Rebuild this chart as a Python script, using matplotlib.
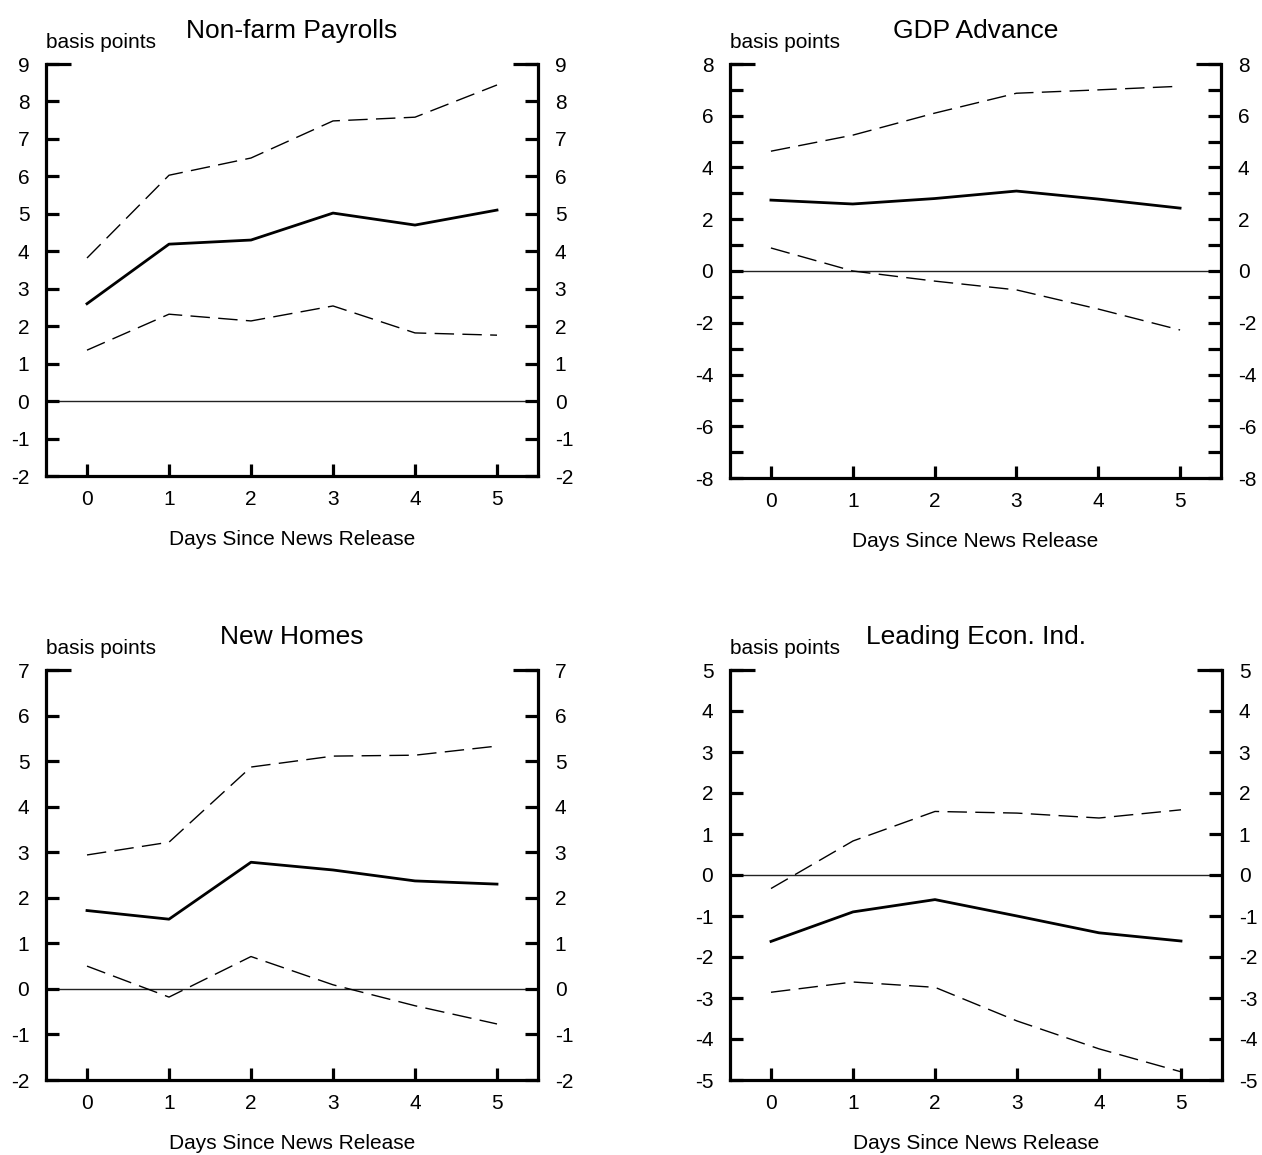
import matplotlib.pyplot as plt
import numpy as np

plt.rcParams['font.family'] = ['Liberation Sans', 'DejaVu Sans']

days = [0, 1, 2, 3, 4, 5]

titles = ["Non-farm Payrolls", "GDP Advance", "New Homes", "Leading Econ. Ind."]

payrolls_mid = [2.6, 4.19, 4.3, 5.02, 4.7, 5.1]
payrolls_hi = [3.82, 6.03, 6.49, 7.48, 7.58, 8.44]
payrolls_lo = [1.36, 2.32, 2.14, 2.54, 1.82, 1.76]

gdp_mid = [2.74, 2.59, 2.8, 3.09, 2.78, 2.43]
gdp_hi = [4.63, 5.25, 6.1, 6.87, 7.0, 7.14]
gdp_lo = [0.89, 0.0, -0.39, -0.73, -1.47, -2.28]

homes_mid = [1.72, 1.53, 2.78, 2.61, 2.37, 2.3]
homes_hi = [2.94, 3.22, 4.87, 5.11, 5.13, 5.33]
homes_lo = [0.5, -0.18, 0.71, 0.09, -0.37, -0.77]

lei_mid = [-1.62, -0.9, -0.6, -1.0, -1.41, -1.61]
lei_hi = [-0.33, 0.83, 1.55, 1.51, 1.39, 1.59]
lei_lo = [-2.86, -2.61, -2.74, -3.56, -4.24, -4.8]

ylims = [(-2, 9), (-8, 8), (-2, 7), (-5, 5)]
label_step = [1, 2, 1, 1]

series = [
    (payrolls_mid, payrolls_hi, payrolls_lo),
    (gdp_mid, gdp_hi, gdp_lo),
    (homes_mid, homes_hi, homes_lo),
    (lei_mid, lei_hi, lei_lo),
]

W, H = 1262, 1155
fig = plt.figure(figsize=(W / 100, H / 100), dpi=100)

# axes boxes in pixels: left, top, right, bottom
boxes = [(46, 64, 538, 476), (730, 64, 1221, 478),
         (46, 670, 538, 1080), (730, 670, 1222, 1080)]

fs = 15
for i, (mid, hi, lo) in enumerate(series):
    l, t, r, b = boxes[i]
    ax = fig.add_axes([l / W, 1 - b / H, (r - l) / W, (b - t) / H])
    ymin, ymax = ylims[i]

    ax.axhline(0, color='#222222', lw=1.0, zorder=1)
    ax.plot(days, hi, color='black', lw=1.0, dashes=(14, 6))
    ax.plot(days, lo, color='black', lw=1.0, dashes=(14, 6))
    ax.plot(days, mid, color='black', lw=2.0)

    ax.set_xlim(-0.5, 5.5)
    ax.set_ylim(ymin, ymax)
    ax.set_xticks(days)

    step = label_step[i]
    major = np.arange(ymin, ymax + 1, step)
    ax.set_yticks(major)
    ax.set_yticklabels([str(v) for v in major])
    if step > 1:
        ax.set_yticks(np.arange(ymin, ymax + 1, 1), minor=True)

    for s in ['left', 'right', 'bottom']:
        ax.spines[s].set_linewidth(2.3)
    ax.spines['top'].set_visible(False)

    ax.tick_params(axis='y', which='both', direction='in', length=9.5, width=2.3,
                   left=True, right=True, labelleft=True, labelright=True,
                   labelsize=fs, pad=12)
    ax.tick_params(axis='x', direction='in', length=9, width=2.3, top=False,
                   labelsize=fs, pad=10)

    # longer cap at the top of both vertical axes
    cap = 25 / (r - l)
    ax.plot([0, cap], [1, 1], transform=ax.transAxes, color='black',
            lw=2.3, clip_on=False, solid_capstyle='butt')
    ax.plot([1 - cap, 1], [1, 1], transform=ax.transAxes, color='black',
            lw=2.3, clip_on=False, solid_capstyle='butt')

    ax.set_xlabel("Days Since News Release", fontsize=fs, labelpad=15)
    ax.set_title(titles[i], fontsize=19, pad=19)
    ax.text(0, 1.03, "basis points", transform=ax.transAxes, fontsize=fs,
            ha='left', va='bottom')

fig.savefig("out.png", dpi=100)
